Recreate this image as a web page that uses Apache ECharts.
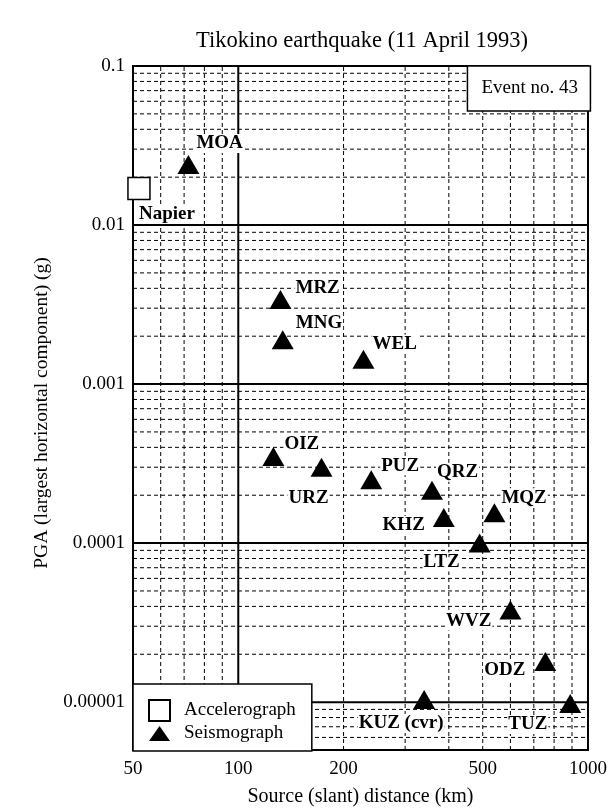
<!DOCTYPE html>
<html><head><meta charset="utf-8">
<script src="https://cdn.jsdelivr.net/npm/echarts@6/dist/echarts.min.js"></script>
<style>html,body{margin:0;padding:0;background:#fff}#chart{width:610px;height:812px}</style>
</head><body><div id="chart"></div>
<script>
// ---- data ----
const seisStations = ['MOA','MRZ','MNG','WEL','OIZ','URZ','PUZ','QRZ','KHZ','MQZ','LTZ','WVZ','ODZ','KUZ (cvr)','TUZ'];
const seisDistance = [72, 132, 134, 228, 126, 173, 240, 358, 387, 540, 490, 600, 755, 340, 890];
const seisPga = [0.024, 0.0034, 0.0019, 0.00143, 0.00035, 0.0003, 0.00025, 0.000215, 0.000145, 0.000155, 0.0001, 0.000038, 0.000018, 0.0000104, 0.0000098];
const accelStations = ['Napier'];
const accelDistance = [52];
const accelPga = [0.017];
const xMin = 50, xMax = 1000, yMin = 0.000005, yMax = 0.1;
const xTickValues = [50, 100, 200, 500, 1000];
const xTickLabels = ['50', '100', '200', '500', '1000'];
const yTickValues = [0.1, 0.01, 0.001, 0.0001, 0.00001];
const yTickLabels = ['0.1', '0.01', '0.001', '0.0001', '0.00001'];
const xMajorGrid = [100];
const xMinorGrid = [60, 70, 80, 90, 200, 300, 400, 500, 600, 700, 800, 900];
const yMajorGrid = [0.01, 0.001, 0.0001, 0.00001];
const yDecades = [0.01, 0.001, 0.0001, 0.00001];
const yMinorMult = [2, 3, 4, 5, 6, 7, 8, 9];
const yBottomMinor = [0.000006, 0.000007, 0.000008, 0.000009];

// ---- label placement (style) ----
const labelPlace = {
  'MOA': ['left', 7, -21], 'MRZ': ['left', 14, -11], 'MNG': ['left', 12, -17],
  'WEL': ['left', 8, -15], 'OIZ': ['left', 10, -12], 'URZ': ['center', -13, 31],
  'PUZ': ['left', 9, -14], 'QRZ': ['left', 4, -18], 'KHZ': ['right', -18, 8],
  'MQZ': ['left', 6, -15], 'LTZ': ['center', -38, 19], 'WVZ': ['right', -18, 11],
  'ODZ': ['right', -19, 9], 'KUZ (cvr)': ['center', -23, 24], 'TUZ': ['right', -22, 21],
  'Napier': ['left', -1, 26]
};

const FONT = 'Liberation Serif';
function mkPoints(names, xs, ys) {
  return names.map((n, i) => {
    const p = labelPlace[n];
    return {
      name: n, value: [xs[i], ys[i]],
      label: { show: true, formatter: n, position: 'inside', align: p[0], verticalAlign: 'middle', offset: [p[1], p[2]],
        fontFamily: FONT, fontWeight: 'bold', fontSize: 19, color: '#000', backgroundColor: '#fff', padding: [0, 1] }
    };
  });
}
const solid = { color: '#000', width: 2, type: 'solid' };
const dashed = { color: '#000', width: 1, type: [4, 3] };
const gridSeries = [];
function vLine(v, st) {
  gridSeries.push({ type: 'line', silent: true, symbol: 'none', z: 1, lineStyle: st, animation: false,
    data: [[v, yMin], [v, yMax]] });
}
function hLine(v, st) {
  gridSeries.push({ type: 'line', silent: true, symbol: 'none', z: 1, lineStyle: st, animation: false,
    data: [[xMin, v], [xMax, v]] });
}
xMinorGrid.forEach(v => vLine(v, dashed));
yDecades.forEach(d => yMinorMult.forEach(m => hLine(+(d * m).toPrecision(3), dashed)));
yBottomMinor.forEach(v => hLine(v, dashed));
xMajorGrid.forEach(v => vLine(v, solid));
yMajorGrid.forEach(v => hLine(v, solid));

function lookupLabel(vals, labels, v) {
  let best = 0, bd = Infinity;
  vals.forEach((t, i) => { const d = Math.abs(Math.log10(t) - Math.log10(v)); if (d < bd) { bd = d; best = i; } });
  return labels[best];
}

const chart = echarts.init(document.getElementById('chart'), null, { renderer: 'canvas' });
chart.setOption({
  animation: false,
  backgroundColor: '#fff',
  title: [
    { text: 'Tikokino earthquake (11 April 1993)', left: 362, top: 30, textAlign: 'center', padding: 0,
      textStyle: { fontFamily: FONT, fontWeight: 'normal', fontSize: 22.5, color: '#000' } },
    { text: 'Event no. 43', right: 19, top: 66, padding: [13, 13, 13, 14], backgroundColor: '#fff', borderColor: '#000', borderWidth: 1.5, z: 20,
      textStyle: { fontFamily: FONT, fontWeight: 'normal', fontSize: 19, color: '#000' } }
  ],
  grid: { left: 133, top: 66, width: 458, height: 686, show: true, borderColor: '#000', borderWidth: 2, backgroundColor: 'transparent' },
  legend: {
    orient: 'vertical', left: 133, top: 684, padding: [15, 16, 8, 15], itemGap: 2, itemWidth: 21, itemHeight: 21, z: 20,
    backgroundColor: '#fff', borderColor: '#000', borderWidth: 1.5, symbolKeepAspect: true,
    textStyle: { fontFamily: FONT, fontSize: 19, color: '#000', padding: [0, 0, 0, 9] },
    data: [
      { name: 'Accelerograph', icon: 'rect' },
      { name: 'Seismograph', icon: 'path://M0,15 L10.5,0 L21,15 Z' }
    ]
  },
  xAxis: {
    type: 'log', logBase: 10, min: xMin, max: xMax,
    name: 'Source (slant) distance (km)', nameLocation: 'middle', nameGap: 37,
    nameTextStyle: { fontFamily: FONT, fontSize: 20, color: '#000' },
    axisLine: { show: false }, axisTick: { show: false }, splitLine: { show: false }, minorSplitLine: { show: false },
    axisLabel: { customValues: xTickValues, margin: 10, fontFamily: FONT, fontSize: 19, color: '#000',
      formatter: v => lookupLabel(xTickValues, xTickLabels, v) }
  },
  yAxis: {
    type: 'log', logBase: 10, min: yMin, max: yMax,
    name: 'PGA (largest horizontal component) (g)', nameLocation: 'middle', nameGap: 76, nameRotate: 90,
    nameTextStyle: { fontFamily: FONT, fontSize: 19.5, color: '#000', padding: [0, 10, 0, 0] },
    axisLine: { show: false }, axisTick: { show: false }, splitLine: { show: false }, minorSplitLine: { show: false },
    axisLabel: { customValues: yTickValues, margin: 8, fontFamily: FONT, fontSize: 19, color: '#000',
      formatter: v => lookupLabel(yTickValues, yTickLabels, v) }
  },
  series: gridSeries.concat([
    { name: 'Accelerograph', type: 'scatter', symbol: 'rect', symbolSize: 22, z: 5,
      itemStyle: { color: '#fff', borderColor: '#000', borderWidth: 1.5, opacity: 1 },
      data: mkPoints(accelStations, accelDistance, accelPga) },
    { name: 'Seismograph', type: 'scatter', symbol: 'triangle', symbolSize: [22, 19], z: 5,
      itemStyle: { color: '#000', opacity: 1 },
      data: mkPoints(seisStations, seisDistance, seisPga) }
  ])
});
</script>
</body></html>
